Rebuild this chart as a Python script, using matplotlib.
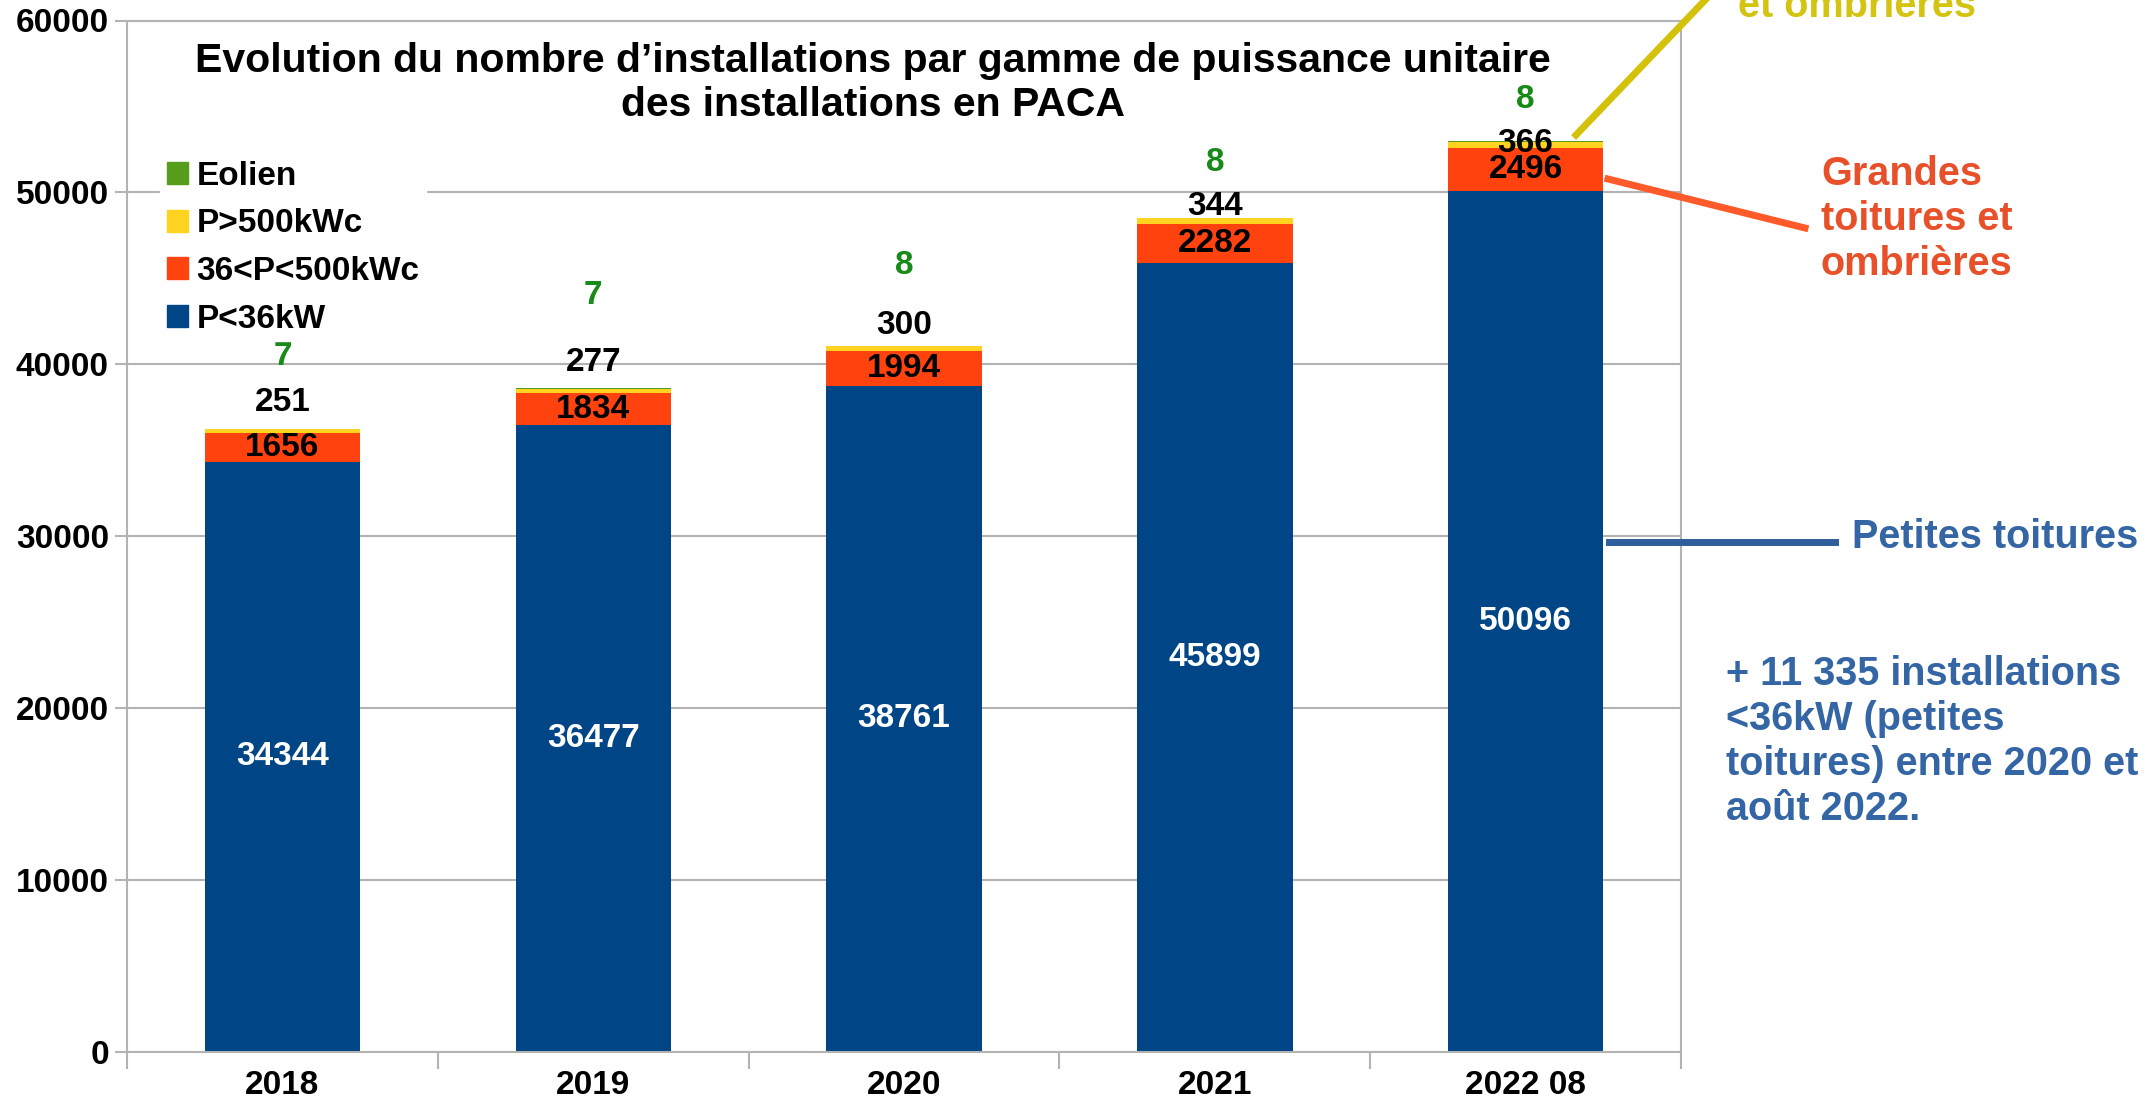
import matplotlib
matplotlib.use('Agg')
import matplotlib.pyplot as plt
import numpy as np
from matplotlib.patches import Patch

plt.rcParams['font.family'] = ['Liberation Sans', 'DejaVu Sans']
plt.rcParams['font.weight'] = 'bold'

# Data
years = ["2018", "2019", "2020", "2021", "2022 08"]
small = [34344, 36477, 38761, 45899, 50096]      # P<36kW
medium = [1656, 1834, 1994, 2282, 2496]          # 36<P<500kWc
large = [251, 277, 300, 344, 366]                # P>500kWc
wind = [7, 7, 8, 8, 8]                           # Eolien

# label offsets above the stack (data units), as placed in the original
large_off = [1520, 1490, 1180, 640, -130]
wind_off = [4230, 5400, 4680, 3190, 2420]

c_small = '#004586'
c_medium = '#ff420e'
c_large = '#ffd320'
c_wind = '#579d1c'
grey = '#b3b3b3'
fs = 24

W, H = 2148, 1100
fig = plt.figure(figsize=(W / 100, H / 100), dpi=100)


def px(x, y):
    return x / W, 1 - y / H


ax = fig.add_axes([127 / W, 1 - 1052 / H, (1681 - 127) / W, (1052 - 20.5) / H])

x = np.arange(len(years))
small = np.array(small)
medium = np.array(medium)
large = np.array(large)
wind = np.array(wind)

ax.bar(x, small, 0.5, color=c_small, zorder=2)
ax.bar(x, medium, 0.5, bottom=small, color=c_medium, zorder=2)
ax.bar(x, large, 0.5, bottom=small + medium, color=c_large, zorder=2)
ax.bar(x, wind, 0.5, bottom=small + medium + large, color=c_wind, zorder=2)

top = small + medium + large
for i in range(len(years)):
    ax.text(x[i], small[i] / 2, str(small[i]), color='white', ha='center', va='center',
            fontsize=fs, fontweight='bold', zorder=3)
    ax.text(x[i], small[i] + medium[i] / 2, str(medium[i]), color='black', ha='center',
            va='center', fontsize=fs, fontweight='bold', zorder=3)
    ax.text(x[i], top[i] + large_off[i], str(large[i]), color='black', ha='center',
            va='center', fontsize=fs, fontweight='bold', zorder=3)
    ax.text(x[i], top[i] + wind_off[i], str(wind[i]), color='#178a17', ha='center',
            va='center', fontsize=fs, fontweight='bold', zorder=3)

ax.set_xlim(-0.5, len(years) - 0.5)
ax.set_ylim(0, 60000)
ax.set_yticks(np.arange(0, 60001, 10000))
ax.set_xticks(x)
ax.set_xticklabels(years)
ax.set_xticks(np.arange(-0.5, len(years), 1), minor=True)
ax.tick_params(axis='x', which='major', length=0, labelsize=fs, pad=13)
ax.tick_params(axis='x', which='minor', length=12, color=grey, width=1.5)
ax.tick_params(axis='y', length=9, color=grey, width=1.5, labelsize=fs, pad=4)
for lab in ax.get_xticklabels() + ax.get_yticklabels():
    lab.set_fontweight('bold')
ax.grid(axis='y', color=grey, linewidth=1.5, zorder=0)
for s in ax.spines.values():
    s.set_color(grey)
    s.set_linewidth(1.5)

handles = [Patch(color=c_wind, label='Eolien'),
           Patch(color=c_large, label='P>500kWc'),
           Patch(color=c_medium, label='36<P<500kWc'),
           Patch(color=c_small, label='P<36kW')]
leg = ax.legend(handles=handles, loc='upper left', bbox_to_anchor=px(160, 154),
                bbox_transform=fig.transFigure, frameon=True, framealpha=1,
                edgecolor='white', fontsize=fs, handlelength=0.63, handleheight=0.63,
                handletextpad=0.27, labelspacing=0.5, borderpad=0.2, borderaxespad=0)
leg.set_zorder(4)

fig.text(*px(873, 83), "Evolution du nombre d\u2019installations par gamme de puissance unitaire\n"
         "des installations en PACA", ha='center', va='center', fontsize=29.5,
         fontweight='bold', linespacing=1.2)

# annotations on the right
afs = 28.5
yel = '#d4c40f'
org = '#e8502a'
blu = '#3465a4'
fig.add_artist(plt.Line2D([1576 / W, 1753 / W], [1 - 135 / H, 1 + 50 / H], color='#d4c10a',
                          linewidth=5))
fig.text(*px(1738, 17), "et ombrières", color=yel, fontsize=afs, fontweight='bold',
         ha='left', va='baseline')
fig.add_artist(plt.Line2D([1608 / W, 1805 / W], [1 - 179 / H, 1 - 228 / H], color='#ff5a2a',
                          linewidth=5))
fig.text(*px(1821, 275), "Grandes\ntoitures et\nombrières", color=org, fontsize=afs,
         fontweight='bold', ha='left', va='baseline', linespacing=1.23)
fig.add_artist(plt.Line2D([1609 / W, 1835 / W], [1 - 542 / H, 1 - 542 / H], color='#2e5f9c',
                          linewidth=5))
fig.text(*px(1852, 548), "Petites toitures", color=blu, fontsize=afs, fontweight='bold',
         ha='left', va='baseline')
fig.text(*px(1726, 820), "+ 11 335 installations\n<36kW (petites\ntoitures) entre 2020 et\n"
         "août 2022.", color=blu, fontsize=afs, fontweight='bold', ha='left', va='baseline',
         linespacing=1.23)

fig.savefig('out.png', dpi=100)
